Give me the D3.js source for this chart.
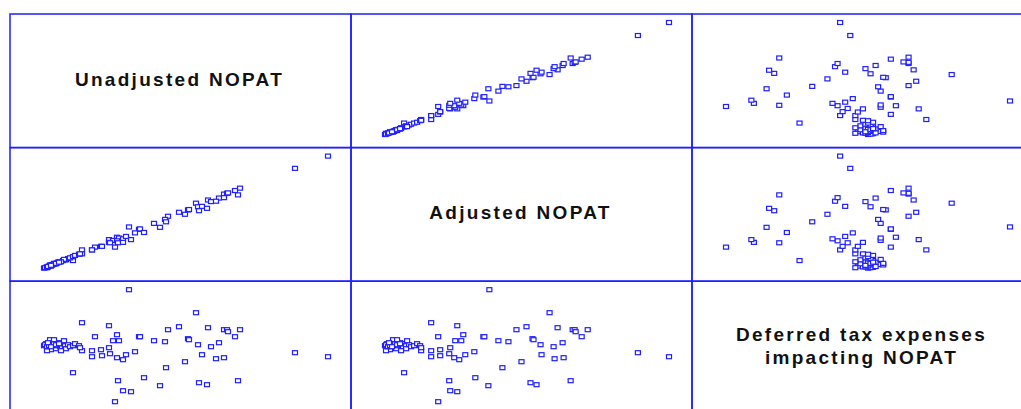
<!DOCTYPE html>
<html>
<head>
<meta charset="utf-8">
<script src="https://cdn.jsdelivr.net/npm/d3@7"></script>
<style>
  body { margin: 0; background: #fff; }
  svg { display: block; }
</style>
</head>
<body>
<div id="chart"></div>
<script>
// variable names shown on the diagonal
var labels = [
  ["Unadjusted NOPAT"],
  ["Adjusted NOPAT"],
  ["Deferred tax expenses", "impacting NOPAT"]
];

// one value per company, same order in every array
var unadjusted = [85, 38, 65, 73, 51, 95, 96, 124, 69, 75, 110, 121, 38, 48, 48, 57, 58, 65, 66, 73,
  79, 82, 91, 122, 29, 74, 100, 116, 79, 87, 71, 152, 135, 164, 180, 183, 184, 196, 191, 144,
  145, 154, 167, 175, 158, 172, 180, 141, 251, 284, 155, 163, 194,
  0, 2, 4, 6, 7, 8, 9, 11, 12, 14, 15, 16, 19, 21, 22, 24, 26, 29, 31, 35, 36, 6, 10, 20, 3, 17,
  1, 3, 5, 8, 10, 13, 4, 7, 12, 15];

var adjusted = [104, 46, 72, 78, 53, 98, 99, 131, 70, 76, 113, 123, 36, 46, 46, 55, 55, 65, 64, 69,
  74, 80, 89, 117, 19, 64, 90, 103, 65, 72, 53, 164, 141, 172, 187, 189, 190, 202, 196, 147,
  148, 155, 168, 177, 156, 169, 178, 136, 252, 283, 145, 151, 185,
  0, 2, 3, 6, 5, 9, 9, 11, 11, 15, 15, 16, 19, 21, 21, 24, 26, 29, 32, 35, 36, 8, 12, 22, 1, 16,
  1, 3, 5, 8, 10, 13, 4, 7, 12, 15];

var deferredTax = [112, 79, 76, 67, 65, 65, 65, 72, 61, 61, 61, 60, 51, 51, 45, 52, 46, 54, 48, 44,
  42, 47, 50, 34, 29, 21, 24, 16, 11, 10, 0, 89, 75, 74, 72, 72, 70, 72, 65, 63,
  62, 57, 55, 59, 47, 43, 44, 40, 49, 45, 19, 17, 21,
  56, 58, 54, 57, 52, 60, 58, 56, 53, 59, 57, 55, 58, 56, 53, 57, 55, 56, 58, 56, 54, 62, 62, 61, 51, 51,
  57, 55, 56, 57, 58, 56, 59, 55, 57, 58];

function init() {
  var w = 1021, h = 409;
  var x0 = 10, y0 = 14;
  var cellW = 341, cellH = 133.6;
  var blue = "#1f1fff";

  var columns = [unadjusted, adjusted, deferredTax];

  var svg = d3.select("#chart")
    .append("svg")
    .attr("width", w)
    .attr("height", h);

  var xs = columns.map(function(v) {
    return d3.scaleLinear().domain(d3.extent(v)).range([34, 318]);
  });
  var ys = columns.map(function(v) {
    return d3.scaleLinear().domain(d3.extent(v)).range([120.5, 8.5]);
  });

  var idx = d3.range(unadjusted.length);

  for (var i = 0; i < 3; i++) {
    for (var j = 0; j < 3; j++) {
      var g = svg.append("g")
        .attr("transform", "translate(" + (x0 + j * cellW) + "," + (y0 + i * cellH) + ")");

      g.append("rect")
        .attr("width", cellW)
        .attr("height", cellH)
        .attr("fill", "none")
        .attr("stroke", blue)
        .attr("stroke-width", 1.5);

      if (i == j) {
        var lines = labels[i];
        var lh = 23;
        g.selectAll("text")
          .data(lines)
          .enter()
          .append("text")
          .attr("x", cellW / 2 - 1)
          .attr("y", function(d, k) { return cellH / 2 + 5 + (k - (lines.length - 1) / 2) * lh; })
          .attr("text-anchor", "middle")
          .attr("font-family", "'Liberation Sans', Arial, sans-serif")
          .attr("font-weight", "bold")
          .attr("font-size", 19)
          .attr("letter-spacing", "2.3px")
          .attr("fill", "#111")
          .text(function(d) { return d; });
      } else {
        var xv = columns[j], yv = columns[i];
        var sx = xs[j], sy = ys[i];
        g.selectAll("rect.pt")
          .data(idx)
          .enter()
          .append("rect")
          .attr("class", "pt")
          .attr("x", function(k) { return sx(xv[k]) - 2.5; })
          .attr("y", function(k) { return sy(yv[k]) - 2; })
          .attr("width", 5)
          .attr("height", 4)
          .attr("fill", "white")
          .attr("stroke", blue)
          .attr("stroke-width", 1.2);
      }
    }
  }
}

window.onload = init;
</script>
</body>
</html>
